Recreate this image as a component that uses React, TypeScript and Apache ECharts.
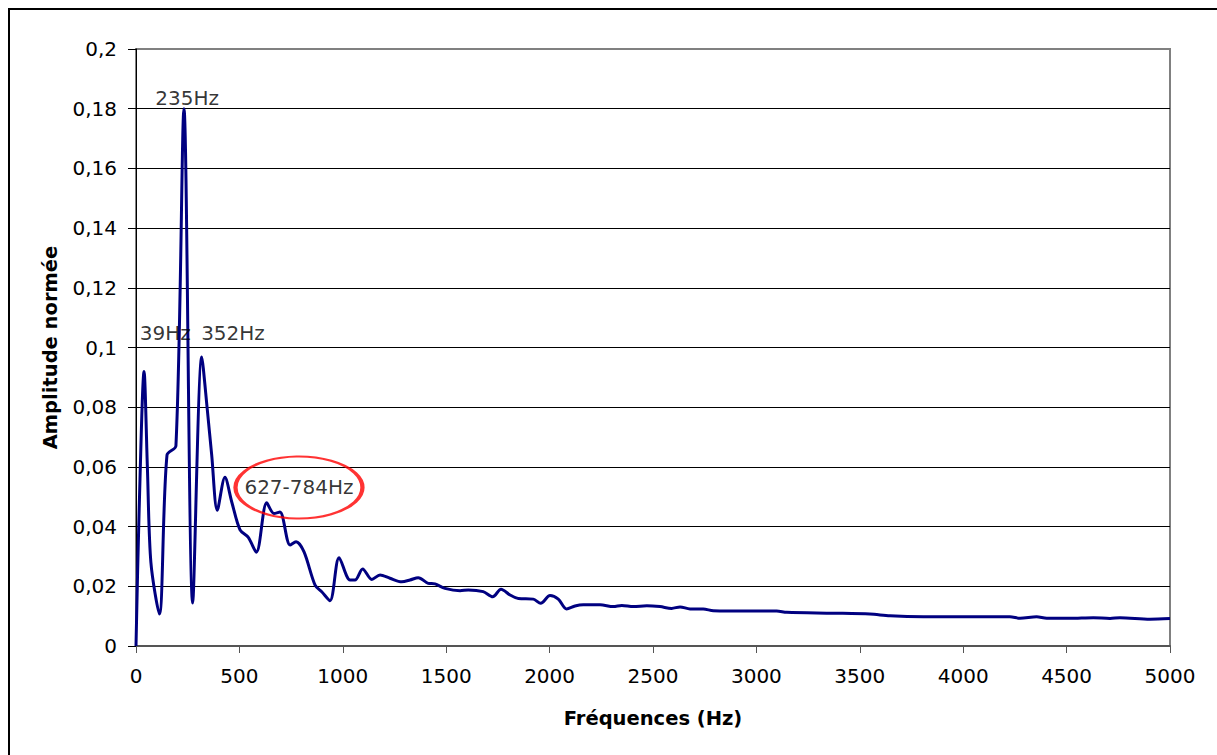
import React, { useEffect, useRef } from "react";
import * as echarts from "echarts";

const freqs: number[] = [
  0, 15, 39, 55, 72, 113, 150, 193, 232, 274, 318, 345, 366, 393, 430, 464, 503,
  543, 582, 632, 667, 696, 745, 774, 812, 866, 898, 938, 982, 1035, 1059, 1096,
  1140, 1180, 1228, 1285, 1325, 1365, 1413, 1446, 1494, 1567, 1607, 1679, 1725,
  1765, 1809, 1849, 1921, 1957, 2002, 2042, 2082, 2123, 2163, 2244, 2308, 2349,
  2405, 2470, 2534, 2590, 2631, 2679, 2743, 2792, 2969, 3098, 3147, 3372, 3549,
  3646, 3807, 4033, 4226, 4275, 4355, 4404, 4516, 4629, 4710, 4758, 4903, 5000,
];
const amplitudes: number[] = [
  0, 0.045, 0.092, 0.06, 0.028, 0.0107, 0.064, 0.067, 0.18, 0.0144, 0.0968,
  0.079, 0.064, 0.0455, 0.0565, 0.048, 0.0389, 0.0364, 0.0314, 0.048, 0.0444,
  0.0449, 0.0338, 0.0349, 0.0316, 0.0204, 0.0182, 0.0152, 0.0296, 0.0221, 0.0221,
  0.0258, 0.0223, 0.0238, 0.0227, 0.0215, 0.0221, 0.0229, 0.021, 0.0208, 0.0193,
  0.0185, 0.0188, 0.0182, 0.0165, 0.019, 0.0171, 0.0159, 0.0157, 0.0143, 0.0169,
  0.0157, 0.0124, 0.0134, 0.0138, 0.0138, 0.0132, 0.0136, 0.0132, 0.0135, 0.0132,
  0.0126, 0.0131, 0.0124, 0.0124, 0.0118, 0.0117, 0.0117, 0.0113, 0.011, 0.0107,
  0.0101, 0.0098, 0.0098, 0.0098, 0.0093, 0.0098, 0.0093, 0.0093, 0.0095, 0.0092,
  0.0095, 0.009, 0.0092,
];

// annotation labels: [freq, amplitude, text]
const peakLabels: [number, number, string][] = [
  [247, 0.1836, "235Hz"],
  [142, 0.1048, "39Hz"],
  [469, 0.1048, "352Hz"],
];
const bandLabel: [number, number, string] = [788, 0.0531, "627-784Hz"];

const xTicks = { min: 0, max: 5000, interval: 500 };
const yTicks = { min: 0, max: 0.2, interval: 0.02 };

const FONT = "DejaVu Sans";

export default function App() {
  const ref = useRef<HTMLDivElement>(null);
  useEffect(() => {
    if (!ref.current) return;
    const chart = echarts.init(ref.current, undefined, { renderer: "svg" });
    const lineData = freqs.map((f, i) => [f, amplitudes[i]]);
    chart.setOption({
      animation: false,
      backgroundColor: "#fff",
      grid: {
        left: 136,
        top: 49,
        right: 47,
        bottom: 109,
        show: true,
        borderColor: "#808080",
        borderWidth: 2,
        backgroundColor: "transparent",
      },
      graphic: [
        {
          type: "rect",
          shape: { x: 9, y: 9, width: 1400, height: 1000 },
          style: { fill: "none", stroke: "#000", lineWidth: 2 },
          silent: true,
        },
      ],
      xAxis: {
        type: "value",
        min: xTicks.min,
        max: xTicks.max,
        interval: xTicks.interval,
        name: "Fréquences (Hz)",
        nameLocation: "middle",
        nameGap: 62,
        nameTextStyle: { fontFamily: FONT, fontSize: 19.5, fontWeight: "bold", color: "#000" },
        axisLine: { show: true, lineStyle: { color: "#555", width: 2 } },
        axisTick: { show: true, length: 7, lineStyle: { color: "#555", width: 1 } },
        axisLabel: {
          margin: 20,
          fontFamily: FONT,
          fontSize: 20,
          color: "#000",
          formatter: (v: number) => String(v),
        },
        splitLine: { show: false },
      },
      yAxis: {
        type: "value",
        min: yTicks.min,
        max: yTicks.max,
        interval: yTicks.interval,
        name: "Amplitude normée",
        nameLocation: "middle",
        nameGap: 76,
        nameTextStyle: { fontFamily: FONT, fontSize: 19.5, fontWeight: "bold", color: "#000" },
        axisLine: { show: true, lineStyle: { color: "#000", width: 1 } },
        axisTick: { show: true, length: 8, lineStyle: { color: "#000", width: 1 } },
        axisLabel: {
          margin: 19,
          fontFamily: FONT,
          fontSize: 20,
          color: "#000",
          formatter: (v: number) => String(+v.toFixed(2)).replace(".", ","),
        },
        splitLine: {
          show: true,
          showMinLine: false,
          showMaxLine: false,
          lineStyle: { color: "#000", width: 1 },
        },
      },
      series: [
        {
          type: "line",
          data: lineData,
          smooth: 0.3,
          showSymbol: false,
          symbol: "none",
          lineStyle: { color: "#000080", width: 3 },
          z: 3,
        },
        {
          type: "scatter",
          data: peakLabels.map((p) => ({ value: [p[0], p[1]], name: p[2] })),
          symbol: "circle",
          symbolSize: 1,
          itemStyle: { color: "transparent" },
          label: {
            show: true,
            position: "inside",
            formatter: (p: any) => p.name,
            fontFamily: FONT,
            fontSize: 20,
            color: "#000",
          },
          z: 4,
        },
        {
          type: "scatter",
          data: [{ value: [bandLabel[0], bandLabel[1]], name: bandLabel[2] }],
          symbol: "circle",
          symbolSize: [127, 62],
          itemStyle: { color: "transparent", borderColor: "#ff0000", borderWidth: 3 },
          label: {
            show: true,
            position: "inside",
            formatter: (p: any) => p.name,
            fontFamily: FONT,
            fontSize: 20,
            color: "#000",
          },
          z: 5,
        },
      ],
    });
    return () => chart.dispose();
  }, []);
  return (
    <div
      ref={ref}
      style={{ position: "absolute", left: 0, top: 0, width: 1217, height: 755, background: "#fff" }}
    />
  );
}
